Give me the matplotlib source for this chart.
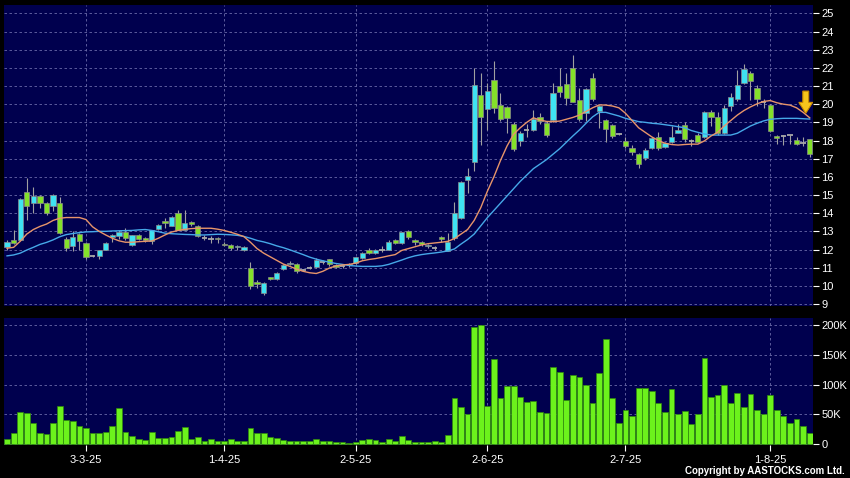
import matplotlib
matplotlib.use('Agg')
import matplotlib.pyplot as plt
from matplotlib.patches import Polygon

# ---------------- data ----------------
opens = [12.15, 12.55, 12.55, 15.15, 14.55, 14.95, 14.55, 14.4, 14.55, 12.6,
         12.2, 12.85, 12.35, 11.65, 11.65, 12.0, 12.68, 12.75, 12.95, 12.25,
         12.78, 12.63, 12.48, 13.15, 13.57, 13.3, 14.0, 13.1, 13.5, 13.3,
         12.65, 12.6, 12.65, 12.33, 12.25, 12.12, 11.95, 10.97, 10.23, 9.62,
         10.47, 10.36, 10.92, 11.2, 11.2, 10.87, 11.0, 11.05, 11.3, 11.45,
         11.12, 11.1, 11.12, 11.24, 11.52, 12.0, 11.8, 12.0, 12.0, 12.55,
         12.35, 13.0, 12.5, 12.39, 12.17, 12.1, 12.68, 11.94, 12.62, 13.72,
         15.8, 16.8, 20.48, 19.72, 21.34, 19.96, 19.83, 18.9, 18.0, 18.59,
         18.59, 19.27, 18.95, 19.13, 21.02, 21.1, 22.0, 20.23, 19.5, 21.46,
         19.63, 19.13, 18.86, 18.35, 17.98, 17.57, 17.24, 17.02, 17.61, 18.21,
         17.66, 17.9, 18.43, 18.85, 18.0, 18.3, 18.21, 19.59, 19.28, 18.43,
         19.9, 20.27, 21.15, 21.73, 20.87, 20.14, 19.95, 18.26, 18.25, 18.28,
         18.03, 17.88, 18.06]
highs = [12.5, 13.05, 14.85, 15.95, 15.45, 15.0, 14.6, 15.05, 14.9, 12.7,
         13.0, 12.9, 12.4, 11.7, 12.0, 12.4, 12.85, 13.1, 13.2, 12.8,
         12.85, 12.7, 13.1, 13.4, 13.75, 13.85, 14.15, 14.15, 13.55, 13.35,
         12.8, 12.75, 12.7, 12.4, 12.3, 12.25, 12.2, 11.33, 10.3, 10.2,
         10.5, 10.75, 11.2, 11.35, 11.25, 10.95, 11.1, 11.55, 11.4, 11.5,
         11.2, 11.2, 11.25, 11.6, 11.85, 12.1, 12.05, 12.2, 12.5, 12.6,
         12.97, 13.05, 12.6, 12.45, 12.3, 12.2, 12.75, 12.9, 14.64, 15.75,
         16.48, 21.98, 21.7, 21.16, 22.35, 20.6, 19.9, 19.0, 18.5, 18.9,
         19.69, 19.5, 19.1, 21.15, 21.98, 21.7, 22.7, 20.88, 20.9, 21.7,
         19.95, 19.2, 18.9, 18.4, 18.22, 17.75, 17.3, 17.6, 18.2, 18.49,
         17.9, 18.8, 18.9, 19.0, 18.1, 18.4, 19.6, 19.7, 19.55, 19.95,
         20.6, 21.88, 22.2, 21.8, 21.06, 20.3, 20.0, 18.3, 18.3, 18.3,
         18.2, 18.2, 18.1]
lows = [12.0, 12.3, 12.5, 13.65, 14.0, 14.3, 13.9, 14.1, 12.85, 11.9,
        11.9, 12.0, 11.45, 11.6, 11.45, 12.0, 12.4, 12.6, 12.55, 12.2,
        12.55, 12.4, 12.3, 13.1, 13.2, 13.3, 13.05, 13.05, 13.3, 12.7,
        12.5, 12.35, 12.35, 12.2, 12.0, 12.0, 11.9, 9.81, 9.9, 9.5,
        10.3, 10.3, 10.85, 11.15, 10.7, 10.8, 10.9, 11.0, 11.2, 11.1,
        11.0, 11.0, 11.05, 11.2, 11.5, 11.75, 11.75, 11.85, 11.95, 12.3,
        12.3, 12.6, 12.25, 12.2, 12.1, 12.0, 12.4, 11.9, 12.55, 13.7,
        15.1, 16.3, 17.76, 18.6, 19.5, 19.1, 18.4, 17.4, 17.7, 18.2,
        18.5, 18.9, 18.2, 19.0, 20.4, 19.96, 20.1, 19.1, 19.1, 20.2,
        18.67, 17.9, 18.15, 18.3, 17.6, 17.2, 16.5, 16.95, 17.55, 17.5,
        17.6, 17.85, 18.4, 17.9, 17.7, 17.9, 18.15, 18.8, 18.3, 18.35,
        19.6, 20.2, 21.1, 20.23, 19.9, 19.8, 18.45, 17.8, 17.75, 17.8,
        17.75, 17.7, 17.1]
closes = [12.4, 12.35, 14.8, 14.4, 14.95, 14.55, 14.0, 15.0, 12.9, 12.1,
          12.7, 12.45, 11.6, 11.65, 11.95, 12.35, 12.82, 12.95, 12.62, 12.8,
          12.6, 12.52, 13.07, 13.33, 13.45, 13.8, 13.07, 13.48, 13.4, 12.72,
          12.65, 12.6, 12.58, 12.25, 12.07, 12.2, 12.15, 10.0, 10.1, 10.17,
          10.38, 10.69, 11.15, 11.27, 10.83, 10.87, 11.0, 11.42, 11.3, 11.2,
          11.05, 11.1, 11.2, 11.56, 11.79, 11.8, 12.0, 12.0, 12.43, 12.35,
          12.95, 12.67, 12.4, 12.3, 12.24, 12.1, 12.57, 12.44, 14.0, 15.69,
          16.05, 21.06, 19.32, 20.75, 19.78, 19.17, 19.23, 17.52, 18.44, 18.59,
          19.17, 19.05, 18.31, 20.6, 20.65, 20.36, 20.14, 19.18, 20.84, 20.29,
          19.92, 18.63, 18.25, 18.35, 17.72, 17.35, 16.69, 17.48, 18.12, 17.57,
          17.84, 18.21, 18.58, 18.06, 18.0, 17.94, 19.55, 19.31, 18.43, 19.77,
          20.38, 21.06, 21.92, 21.28, 20.27, 20.14, 18.54, 18.12, 18.25, 18.28,
          17.81, 17.88, 17.26]
volumes_k = [8.4, 18, 54.5, 52.8, 34.8, 18, 16.3, 34.8, 64, 40.4,
             38.8, 30.3, 26.4, 18, 18, 19.7, 30.3, 61.2, 19.7, 13.5,
             7.9, 6.7, 19.7, 10.7, 10.7, 12.4, 21.3, 28, 8.4, 12.4,
             5, 7.9, 5, 5.6, 8.4, 4.5, 5, 27.5, 18, 19,
             12.4, 9.6, 6.7, 5, 5.6, 5, 5, 7.9, 4.5, 4.5,
             2.8, 2.8, 2.2, 3.9, 6.2, 9, 6.7, 3.4, 9, 5,
             13, 6.7, 3.4, 4, 3, 6, 3.4, 14.6, 77, 62,
             50.6, 197, 200, 64, 143, 77, 98, 97, 80, 70,
             73, 54.5, 51.7, 130, 121, 73.6, 117, 112, 99, 69,
             119, 176, 77, 36, 58, 47, 95, 95, 89, 69,
             54.5, 93, 51, 56, 33.7, 50.6, 144, 80, 82.6, 99.4,
             69, 86.5, 63, 84, 58, 50.6, 82, 58, 48, 36,
             43, 30, 18]
ma_fast = [12.07, 12.12, 12.45, 12.85, 13.1, 13.27, 13.4, 13.6, 13.72, 13.76,
           13.76, 13.76, 13.65, 13.25, 13.0, 12.8, 12.62, 12.48, 12.4, 12.4,
           12.43, 12.45, 12.47, 12.62, 12.8, 12.96, 13.05, 13.11, 13.15, 13.17,
           13.17, 13.17, 13.12, 13.05, 12.95, 12.84, 12.71, 12.4, 12.05, 11.8,
           11.6, 11.4, 11.2, 11.07, 10.92, 10.8, 10.72, 10.68, 10.8, 10.98,
           11.1, 11.15, 11.18, 11.25, 11.38, 11.45, 11.5, 11.57, 11.65, 11.72,
           11.95, 12.05, 12.15, 12.25, 12.32, 12.36, 12.4, 12.45, 12.6, 12.85,
           13.1, 13.6, 14.3, 15.2, 16.0, 16.9, 17.7, 18.35, 18.7, 19.0,
           19.25, 19.13, 19.05, 19.04, 19.07, 19.17, 19.27, 19.4, 19.6, 19.8,
           19.96, 19.95, 19.9, 19.8, 19.5, 19.1, 18.7, 18.45, 18.2, 18.0,
           17.85, 17.78, 17.75, 17.78, 17.8, 17.8, 17.98, 18.25, 18.45, 18.8,
           19.1, 19.4, 19.65, 19.85, 20.02, 20.15, 20.2, 20.08, 20.0, 19.95,
           19.8, 19.55, 19.25]
ma_slow = [11.65, 11.7, 11.8, 11.97, 12.12, 12.28, 12.39, 12.53, 12.7, 12.82,
           12.88, 12.93, 12.97, 12.98, 13.0, 13.0, 13.02, 13.03, 13.04, 13.05,
           13.08, 13.1, 13.05, 12.98, 12.9, 12.87, 12.85, 12.83, 12.82, 12.8,
           12.8, 12.82, 12.84, 12.83, 12.81, 12.78, 12.72, 12.62, 12.5, 12.42,
           12.32, 12.2, 12.1, 11.98, 11.85, 11.72, 11.58, 11.47, 11.38, 11.3,
           11.23, 11.18, 11.12, 11.09, 11.07, 11.07, 11.07, 11.1, 11.18, 11.3,
           11.42, 11.55, 11.65, 11.72, 11.77, 11.81, 11.86, 11.92, 12.03, 12.3,
           12.55, 12.85, 13.3, 13.75, 14.15, 14.55, 14.95, 15.35, 15.75, 16.1,
           16.45, 16.7, 16.95, 17.25, 17.55, 17.9, 18.25, 18.58, 18.95, 19.3,
           19.55, 19.55, 19.45, 19.35, 19.22, 19.13, 19.04, 19.0, 18.95, 18.92,
           18.87, 18.82, 18.76, 18.7, 18.55, 18.45, 18.36, 18.3, 18.3, 18.3,
           18.3, 18.4, 18.6, 18.8, 18.95, 19.08, 19.17, 19.2, 19.22, 19.22,
           19.22, 19.2, 19.18]
tick_idx = [12, 33, 53, 73, 94, 116]
tick_labels = ['3-3-25', '1-4-25', '2-5-25', '2-6-25', '2-7-25', '1-8-25']
price_ticks = list(range(9, 26))
vol_ticks = [0, 50, 100, 150, 200]
vol_tick_labels = ['0', '50K', '100K', '150K', '200K']

# ---------------- styling ----------------
BG = '#000000'
NAVY = '#00004e'
GRID = '#6a6aa8'
UP = '#3fe3f2'
DOWN = '#84e12a'
DOJI = '#a8a8a8'
WICK = '#a0a0a0'
VOL = '#6cf21c'
ORANGE = '#e8956a'
BLUE = '#46a8e8'
FONT = 'Liberation Sans'

n = len(closes)
x = list(range(n))
xlim = (-0.46, n - 1 + 0.5)

fig = plt.figure(figsize=(8.5, 4.78), dpi=100, facecolor=BG)
ax = fig.add_axes([4 / 850, 1 - 306 / 478, 809 / 850, 301 / 478], facecolor=NAVY)
axv = fig.add_axes([4 / 850, 1 - 445 / 478, 809 / 850, 127 / 478], facecolor=NAVY)

for a in (ax, axv):
    for s in a.spines.values():
        s.set_visible(False)
    a.set_xlim(*xlim)
    a.set_axisbelow(True)
    a.grid(True, color=GRID, linestyle=(0, (3, 3)), linewidth=0.6)

# ---- price panel ----
ax.set_ylim(8.89, 25.46)
ax.set_yticks(price_ticks)
ax.set_yticklabels([str(t) for t in price_ticks])
ax.yaxis.tick_right()
ax.tick_params(axis='y', colors='white', length=4, width=0.8, pad=2,
               labelsize=8, labelfontfamily=FONT)
ax.set_xticks(tick_idx)
ax.tick_params(axis='x', length=0, labelbottom=False)

bw = 0.8
for i in x:
    o, h, l, c = opens[i], highs[i], lows[i], closes[i]
    ax.vlines(i, l, h, color=WICK, linewidth=0.8, zorder=2)
    if abs(c - o) < 0.005:
        ax.hlines(c, i - bw / 2, i + bw / 2, color=DOJI, linewidth=1.3, zorder=3)
    else:
        col = UP if c > o else DOWN
        ax.bar(i, abs(c - o), bottom=min(o, c), width=bw, color=col,
               edgecolor='#8c8c8c', linewidth=0.5, zorder=3)

ax.plot(x, ma_slow, color=BLUE, linewidth=1.0, zorder=4)
ax.plot(x, ma_fast, color=ORANGE, linewidth=1.0, zorder=4)

# down arrow marker near the last bar
cx = n - 1 - 0.6
arrow = Polygon([(cx - 0.45, 20.72), (cx + 0.45, 20.72), (cx + 0.45, 20.1),
                 (cx + 1.05, 20.1), (cx, 19.5), (cx - 1.05, 20.1),
                 (cx - 0.45, 20.1)], closed=True, facecolor='#f7c51c',
                edgecolor='#c98a00', linewidth=0.8, zorder=5)
ax.add_patch(arrow)

# ---- volume panel ----
axv.set_ylim(-1.5, 212)
axv.bar(x, volumes_k, width=0.88, color=VOL, edgecolor='#2f8a0c',
        linewidth=0.5, zorder=3)
axv.set_yticks(vol_ticks)
axv.set_yticklabels(vol_tick_labels)
axv.yaxis.tick_right()
axv.tick_params(axis='y', colors='white', length=4, width=0.8, pad=2,
                labelsize=8, labelfontfamily=FONT)
axv.set_xticks(tick_idx)
axv.set_xticklabels(tick_labels)
axv.tick_params(axis='x', colors='white', length=4, width=0.8, pad=3,
                labelsize=8, labelfontfamily=FONT)

fig.text(845 / 850, 1 - 471 / 478, 'Copyright by AASTOCKS.com Ltd.',
         color='white', fontsize=7, fontweight='bold', family=FONT,
         ha='right', va='center')

fig.savefig('out.png', dpi=100, facecolor=BG)
